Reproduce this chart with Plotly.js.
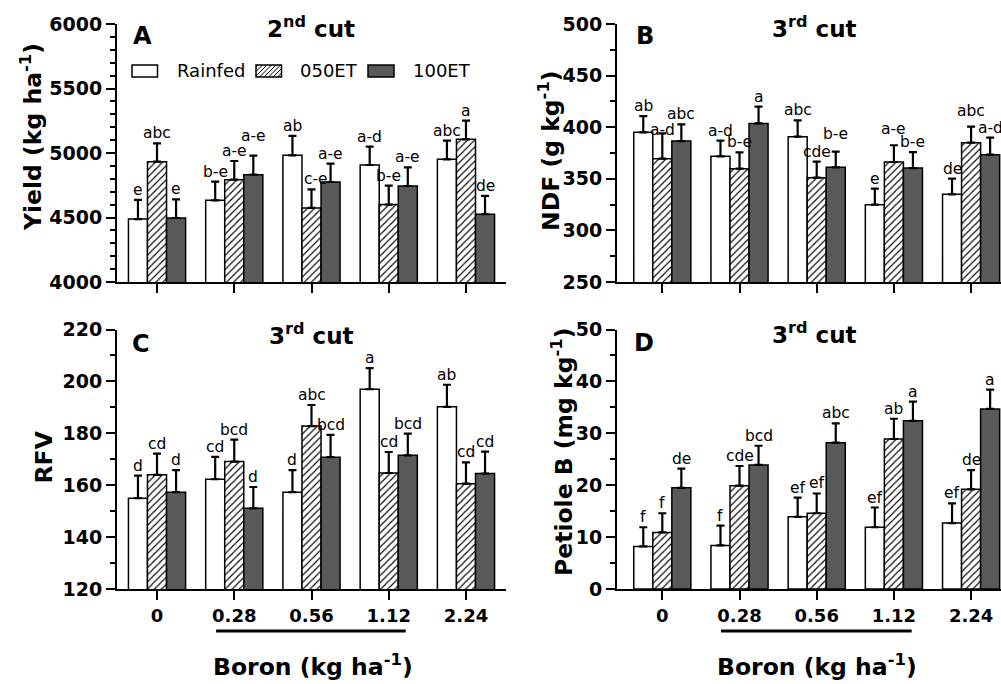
<!DOCTYPE html>
<html><head><meta charset="utf-8">
<script src="https://cdn.plot.ly/plotly-3.0.1.min.js"></script>
<style>html,body{margin:0;padding:0;overflow:hidden;background:#fff;} #chart{width:1020px;height:684px;}</style>
</head><body><div id="chart"></div>
<script>
// ---------- DATA ----------
const boronLevels = ['0', '0.28', '0.56', '1.12', '2.24'];
const seriesNames = ['Rainfed', '050ET', '100ET'];

// Panel A: Yield (kg ha-1), 2nd cut
const yieldRainfed = [4488, 4633, 4982, 4907, 4951];
const yield050ET   = [4933, 4793, 4574, 4600, 5106];
const yield100ET   = [4496, 4832, 4775, 4744, 4525];
const yieldErrRainfed = [148, 145, 150, 142, 145];
const yieldErr050ET   = [142, 145, 144, 147, 145];
const yieldErr100ET   = [145, 147, 142, 145, 142];
const yieldLblRainfed = ['e', 'b-e', 'ab', 'a-d', 'abc'];
const yieldLbl050ET   = ['abc', 'a-e', 'c-e', 'b-e', 'a'];
const yieldLbl100ET   = ['e', 'a-e', 'a-e', 'a-e', 'de'];

// Panel B: NDF (g kg-1), 3rd cut
const ndfRainfed = [395.0, 371.8, 390.8, 324.9, 335.0];
const ndf050ET   = [369.5, 359.8, 351.1, 366.3, 385.0];
const ndf100ET   = [386.6, 403.7, 361.1, 360.4, 373.4];
const ndfErrRainfed = [15.8, 15.2, 15.8, 15.5, 15.2];
const ndfErr050ET   = [24.5, 15.8, 15.5, 16.2, 15.5];
const ndfErr100ET   = [16.2, 16.2, 15.2, 15.5, 16.5];
const ndfLblRainfed = ['ab', 'a-d', 'abc', 'e', 'de'];
const ndfLbl050ET   = ['a-d', 'b-e', 'cde', 'a-e', 'abc'];
const ndfLbl100ET   = ['abc', 'a', 'b-e', 'b-e', 'a-d'];

// Panel C: RFV, 3rd cut
const rfvRainfed = [155.0, 162.3, 157.3, 197.0, 190.2];
const rfv050ET   = [164.0, 169.1, 182.8, 164.7, 160.6];
const rfv100ET   = [157.3, 151.1, 170.8, 171.5, 164.5];
const rfvErrRainfed = [8.7, 8.6, 8.5, 8.1, 8.5];
const rfvErr050ET   = [8.2, 8.5, 8.1, 8.1, 8.2];
const rfvErr100ET   = [8.5, 8.2, 8.6, 8.4, 8.4];
const rfvLblRainfed = ['d', 'cd', 'd', 'a', 'ab'];
const rfvLbl050ET   = ['cd', 'bcd', 'abc', 'cd', 'cd'];
const rfvLbl100ET   = ['d', 'd', 'bcd', 'bcd', 'cd'];

// Panel D: Petiole B (mg kg-1), 3rd cut
const petRainfed = [8.2, 8.4, 13.9, 11.9, 12.7];
const pet050ET   = [10.9, 19.9, 14.6, 28.9, 19.2];
const pet100ET   = [19.5, 23.9, 28.2, 32.4, 34.7];
const petErrRainfed = [3.7, 3.8, 3.7, 3.8, 3.8];
const petErr050ET   = [3.7, 3.8, 3.8, 3.9, 3.7];
const petErr100ET   = [3.7, 3.7, 3.7, 3.7, 3.7];
const petLblRainfed = ['f', 'f', 'ef', 'ef', 'ef'];
const petLbl050ET   = ['f', 'cde', 'ef', 'ab', 'de'];
const petLbl100ET   = ['de', 'bcd', 'abc', 'a', 'a'];

// ---------- LAYOUT HELPERS ----------
const W = 1020, H = 684;
const px = v => v / W;
const py = v => 1 - v / H;
const BARGAP = 0.26;
const BW = (1 - BARGAP) / 3;
const FONT = 'DejaVu Sans, Arial, sans-serif';
const xIdx = boronLevels.map((_, i) => i);

// small manual nudges of letter labels (panel, series, group, dx px, dy px) as in the original figure
const labelNudges = [[0, 2, 1, 0, 10], [0, 1, 2, 4, 0], [1, 1, 0, 0, -7], [1, 2, 2, 0, 8],
                     [1, 1, 3, 0, 6], [1, 1, 4, 0, 6]];

const panels = [
  {xa: 'x',  ya: 'y',  vals: [yieldRainfed, yield050ET, yield100ET], errs: [yieldErrRainfed, yieldErr050ET, yieldErr100ET], lbls: [yieldLblRainfed, yieldLbl050ET, yieldLbl100ET]},
  {xa: 'x2', ya: 'y2', vals: [ndfRainfed, ndf050ET, ndf100ET], errs: [ndfErrRainfed, ndfErr050ET, ndfErr100ET], lbls: [ndfLblRainfed, ndfLbl050ET, ndfLbl100ET]},
  {xa: 'x3', ya: 'y3', vals: [rfvRainfed, rfv050ET, rfv100ET], errs: [rfvErrRainfed, rfvErr050ET, rfvErr100ET], lbls: [rfvLblRainfed, rfvLbl050ET, rfvLbl100ET]},
  {xa: 'x4', ya: 'y4', vals: [petRainfed, pet050ET, pet100ET], errs: [petErrRainfed, petErr050ET, petErr100ET], lbls: [petLblRainfed, petLbl050ET, petLbl100ET]}
];

const seriesStyle = [
  {color: '#ffffff'},
  {color: '#ffffff', pattern: {shape: '/', fgcolor: '#000000', bgcolor: '#ffffff', size: 5, solidity: 0.22}},
  {color: '#595959'}
];

const traces = [];
const annotations = [];
panels.forEach((p, pi) => {
  seriesNames.forEach((name, k) => {
    const m = {color: seriesStyle[k].color, line: {color: '#000000', width: 1.5}};
    if (seriesStyle[k].pattern) m.pattern = seriesStyle[k].pattern;
    traces.push({
      type: 'bar', name: name, x: xIdx, y: p.vals[k], xaxis: p.xa, yaxis: p.ya,
      marker: m, showlegend: false, hoverinfo: 'skip',
      error_y: {type: 'data', symmetric: false, array: p.errs[k], arrayminus: p.errs[k].map(() => 0),
                color: '#000000', thickness: 2.2, width: 4}
    });
    p.lbls[k].forEach((t, i) => {
      const nd = labelNudges.find(n => n[0] === pi && n[1] === k && n[2] === i);
      annotations.push({
        xref: p.xa, yref: p.ya, x: i + (k - 1) * BW, y: p.vals[k][i] + p.errs[k][i],
        text: t, showarrow: false, xanchor: 'center', yanchor: 'bottom',
        xshift: nd ? nd[3] : 0, yshift: nd ? nd[4] : 0, borderpad: 0,
        font: {family: FONT, size: 15.5, color: '#000'}
      });
    });
  });
});

function xAxis(domain, range, anchor, labels) {
  return {
    domain: domain, range: range, anchor: anchor,
    tickmode: 'array', tickvals: xIdx, ticktext: boronLevels, showticklabels: labels,
    ticks: 'outside', ticklen: 9, tickwidth: 2, tickcolor: '#000',
    showline: true, linewidth: 2, linecolor: '#000', showgrid: false, zeroline: false,
    tickfont: {family: FONT, size: 18, color: '#000', weight: 700}, fixedrange: true
  };
}
function yAxis(domain, range, dtick, minor, anchor) {
  return {
    domain: domain, range: range, anchor: anchor, tick0: range[0], dtick: dtick,
    ticks: 'outside', ticklen: 9, tickwidth: 2, tickcolor: '#000',
    minor: {dtick: minor, tick0: range[0], ticks: 'outside', ticklen: 5, tickwidth: 2, tickcolor: '#000', showgrid: false},
    showline: true, linewidth: 2, linecolor: '#000', showgrid: false, zeroline: false,
    tickfont: {family: FONT, size: 19, color: '#000', weight: 700}, fixedrange: true
  };
}

const xL = [px(117), px(506)], xR = [px(617), px(1016.4)];
const rL = [-0.518, 4.518], rR = [-0.587, 4.587];
const yT = [py(282), py(24)], yB = [py(589), py(329.5)];

// titles, letters, axis titles
const bold = (s) => ({family: FONT, size: s, color: '#000', weight: 700});
const addText = (x, y, text, font, extra) => annotations.push(Object.assign({
  xref: 'paper', yref: 'paper', x: px(x), y: py(y), text: text, showarrow: false,
  xanchor: 'center', yanchor: 'middle', font: font}, extra || {}));

addText(311, 27, '2<sup>nd</sup> cut', bold(23));
addText(814, 27, '3<sup>rd</sup> cut', bold(23));
addText(311, 334, '3<sup>rd</sup> cut', bold(23));
addText(814, 333, '3<sup>rd</sup> cut', bold(23));
addText(131, 36, 'A', bold(24), {xanchor: 'left'});
addText(634, 36, 'B', bold(24), {xanchor: 'left'});
addText(130, 344, 'C', bold(24), {xanchor: 'left'});
addText(632, 342.5, 'D', bold(24), {xanchor: 'left'});
addText(31, 137, 'Yield (kg ha<sup>-1</sup>)', bold(23.5), {textangle: -90});
addText(549, 151, 'NDF (g kg<sup>-1</sup>)', bold(23.5), {textangle: -90});
addText(43, 457.5, 'RFV', bold(23.5), {textangle: -90});
addText(562, 452, 'Petiole B (mg kg<sup>-1</sup>)', bold(23.5), {textangle: -90});
addText(313, 665, 'Boron (kg ha<sup>-1</sup>)', bold(23.5));
addText(816.5, 665, 'Boron (kg ha<sup>-1</sup>)', bold(23.5));

// custom legend (panel A)
const legBoxes = [[132, 157.5], [256, 281.5], [368, 394]];
const legTextX = [175, 298, 411];
const legY0 = 65, legY1 = 77;
const shapes = [];
seriesNames.forEach((name, k) => {
  const [bx0, bx1] = legBoxes[k];
  shapes.push({type: 'rect', xref: 'paper', yref: 'paper', x0: px(bx0), x1: px(bx1), y0: py(legY1), y1: py(legY0),
               fillcolor: seriesStyle[k].color, line: {color: '#000', width: 1.5}, layer: 'above'});
  if (seriesStyle[k].pattern) {
    let d = '';
    for (let s = bx0 + legY0 + 2; s < bx1 + legY1; s += 4.5) {
      const xa = Math.max(bx0, s - legY1), xb = Math.min(bx1, s - legY0);
      if (xb <= xa) continue;
      d += `M${px(xa)},${py(s - xa)}L${px(xb)},${py(s - xb)}`;
    }
    shapes.push({type: 'path', xref: 'paper', yref: 'paper', path: d, line: {color: '#000', width: 1}, layer: 'above'});
  }
  addText(legTextX[k], 71, name, {family: FONT, size: 18, color: '#000'}, {xanchor: 'left'});
});

// underline bars below 0.28 - 1.12
shapes.push({type: 'line', xref: 'x3', yref: 'paper', x0: 0.765, x1: 3.22, y0: py(631), y1: py(631), line: {color: '#000', width: 3}});
shapes.push({type: 'line', xref: 'x4', yref: 'paper', x0: 0.76, x1: 3.23, y0: py(631), y1: py(631), line: {color: '#000', width: 3}});

const layout = {
  width: W, height: H, margin: {l: 0, r: 0, t: 0, b: 0},
  paper_bgcolor: '#fff', plot_bgcolor: '#fff',
  barmode: 'group', bargap: BARGAP, bargroupgap: 0, showlegend: false,
  font: {family: FONT, color: '#000'},
  xaxis:  xAxis(xL, rL, 'y',  false), yaxis:  yAxis(yT, [4000, 6000], 500, 100, 'x'),
  xaxis2: xAxis(xR, rR, 'y2', false), yaxis2: yAxis(yT, [250, 500], 50, 25, 'x2'),
  xaxis3: xAxis(xL, rL, 'y3', true),  yaxis3: yAxis(yB, [120, 220], 20, 10, 'x3'),
  xaxis4: xAxis(xR, rR, 'y4', true),  yaxis4: yAxis(yB, [0, 50], 10, 5, 'x4'),
  annotations: annotations, shapes: shapes
};

Plotly.newPlot('chart', traces, layout, {staticPlot: true, displayModeBar: false});
</script>
</body></html>
